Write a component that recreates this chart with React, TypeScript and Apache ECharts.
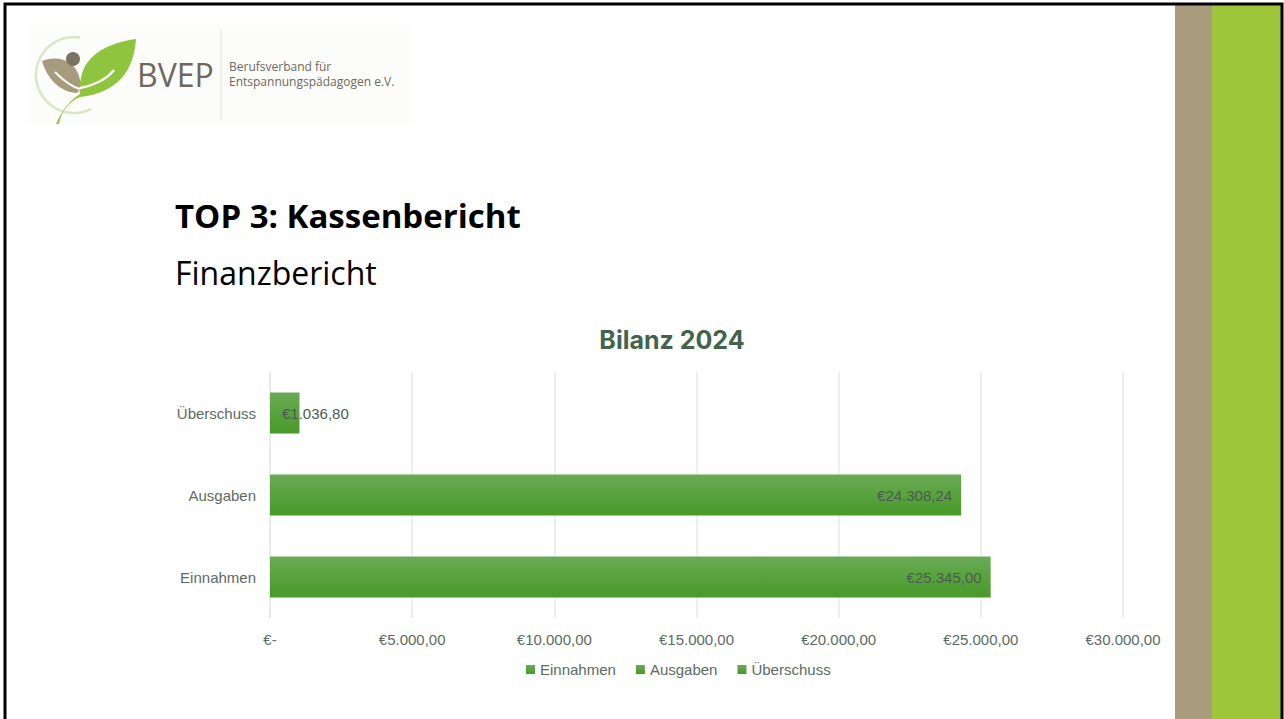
import React, { useEffect, useRef } from "react";
import * as echarts from "echarts";

const categories = ["Einnahmen", "Ausgaben", "Überschuss"];
const einnahmen = [25345.0, null, null];
const ausgaben = [null, 24308.24, null];
const ueberschuss = [null, null, 1036.8];
const xTicks = [0, 5000, 10000, 15000, 20000, 25000, 30000];

function fmtEuro(v: number): string {
  if (!v) return "€-";
  const s = v.toFixed(2);
  const [i, d] = s.split(".");
  return "€" + i.replace(/\B(?=(\d{3})+(?!\d))/g, ".") + "," + d;
}

const greenLeaf =
  "M59 124 C61 112 68 102 80 97 C118 93 134 70 136 39 C106 43 85 56 81 78 C79 86 79 90 80 94 C70 100 62 110 56 124 Z";
const tanLeaf =
  "M42 61 C60 54 77 62 80 80 C81 86 79 91 77 93 C59 92 47 78 42 61 Z";

const FONT = "Liberation Sans, Arial, sans-serif";

export default function App() {
  const ref = useRef<HTMLDivElement>(null);
  useEffect(() => {
    if (!ref.current) return;
    echarts.graphic.registerShape("greenLeaf", echarts.graphic.extendPath(greenLeaf, {}));
    echarts.graphic.registerShape("tanLeaf", echarts.graphic.extendPath(tanLeaf, {}));
    const chart = echarts.init(ref.current, null, { renderer: "svg" });
    const barColor = new echarts.graphic.LinearGradient(0, 0, 0, 1, [
      { offset: 0, color: "#6aaa55" },
      { offset: 1, color: "#489a28" },
    ]);
    const labelBase = {
      show: true,
      color: "#4b5b52",
      fontSize: 15,
      fontFamily: FONT,
      formatter: (p: any) => fmtEuro(p.value),
    };
    const mk = (name: string, data: (number | null)[], pos: string, dist: number) => ({
      name,
      type: "bar",
      stack: "total",
      barWidth: "50%",
      data,
      itemStyle: { color: barColor },
      label: { ...labelBase, position: pos, distance: dist },
    });
    chart.setOption({
      animation: false,
      backgroundColor: "#ffffff",
      textStyle: { fontFamily: FONT },
      grid: { left: 270, right: 161, top: 372, bottom: 101, containLabel: false },
      legend: {
        data: categories,
        top: 657,
        left: 521,
        icon: "rect",
        itemWidth: 9,
        itemHeight: 9,
        itemGap: 20,
        textStyle: { color: "#5b6b62", fontSize: 15, fontFamily: FONT },
      },
      xAxis: {
        type: "value",
        min: xTicks[0],
        max: xTicks[xTicks.length - 1],
        interval: xTicks[1] - xTicks[0],
        axisLine: { show: false },
        axisTick: { show: false },
        splitLine: { lineStyle: { color: "#e4eae7", width: 1.5 } },
        axisLabel: {
          color: "#5b6b62",
          fontSize: 15,
          margin: 14,
          formatter: (v: number) => fmtEuro(v),
        },
      },
      yAxis: {
        type: "category",
        data: categories,
        axisLine: { show: true, lineStyle: { color: "#e4eae7", width: 1.5 } },
        axisTick: { show: false },
        axisLabel: { color: "#5b6b62", fontSize: 15, margin: 14 },
      },
      series: [
        mk("Einnahmen", einnahmen, "insideRight", 9),
        mk("Ausgaben", ausgaben, "insideRight", 9),
        mk("Überschuss", ueberschuss, "insideLeft", 12),
      ],
      graphic: [
        { type: "rect", shape: { x: 1175, y: 5, width: 37, height: 720 }, style: { fill: "#a99c7c" } },
        { type: "rect", shape: { x: 1212, y: 5, width: 70, height: 720 }, style: { fill: "#9fc63b" } },
        {
          type: "rect",
          shape: { x: 5, y: 4, width: 1277, height: 730 },
          style: { fill: "none", stroke: "#000000", lineWidth: 3 },
        },
        { type: "rect", shape: { x: 30, y: 25, width: 380, height: 100 }, style: { fill: "#fcfcfb" } },
        {
          type: "arc",
          shape: { cx: 74, cy: 75, r: 38, startAngle: Math.PI * 0.35, endAngle: Math.PI * 1.55 },
          style: { stroke: "#dbe7c4", lineWidth: 2.5, fill: "none" },
        },
        { type: "tanLeaf", x: 0, y: 0, style: { fill: "#a89a7c" } },
        { type: "greenLeaf", x: 0, y: 0, style: { fill: "#8fc43f" } },
        {
          type: "bezierCurve",
          shape: { x1: 80, y1: 88, x2: 114, y2: 70, cpx1: 92, cpy1: 86, cpx2: 106, cpy2: 80 },
          style: { stroke: "#fcfcfb", lineWidth: 2.5, fill: "none" },
        },
        {
          type: "bezierCurve",
          shape: { x1: 55, y1: 72, x2: 80, y2: 89, cpx1: 63, cpy1: 80, cpx2: 72, cpy2: 87 },
          style: { stroke: "#fcfcfb", lineWidth: 2, fill: "none" },
        },
        { type: "circle", shape: { cx: 73, cy: 59, r: 7 }, style: { fill: "#7a7262" } },
        {
          type: "text",
          x: 137,
          y: 74,
          style: {
            text: "BVEP",
            fill: "#6f685c",
            font: "32px 'Open Sans', sans-serif",
            textVerticalAlign: "middle",
          },
        },
        { type: "line", shape: { x1: 221, y1: 30, x2: 221, y2: 120 }, style: { stroke: "#e3e2de", lineWidth: 1 } },
        {
          type: "text",
          x: 229,
          y: 66,
          style: {
            text: "Berufsverband für",
            fill: "#6f685c",
            font: "12px 'Open Sans', sans-serif",
            textVerticalAlign: "middle",
          },
        },
        {
          type: "text",
          x: 229,
          y: 81,
          style: {
            text: "Entspannungspädagogen e.V.",
            fill: "#6f685c",
            font: "12px 'Open Sans', sans-serif",
            textVerticalAlign: "middle",
          },
        },
        {
          type: "text",
          x: 175,
          y: 215,
          style: {
            text: "TOP 3: Kassenbericht",
            fill: "#000000",
            font: "bold 33px 'Open Sans', sans-serif",
            textVerticalAlign: "middle",
          },
        },
        {
          type: "text",
          x: 175,
          y: 272,
          style: {
            text: "Finanzbericht",
            fill: "#000000",
            font: "32px 'Open Sans', sans-serif",
            textVerticalAlign: "middle",
          },
        },
        {
          type: "text",
          x: 672,
          y: 340,
          style: {
            text: "Bilanz 2024",
            fill: "#44634f",
            font: "bold 25px Inter, sans-serif",
            textAlign: "center",
            textVerticalAlign: "middle",
          },
        },
      ],
    });
    return () => chart.dispose();
  }, []);
  return (
    <div
      ref={ref}
      style={{ position: "fixed", left: 0, top: 0, width: 1284, height: 719 }}
    />
  );
}
